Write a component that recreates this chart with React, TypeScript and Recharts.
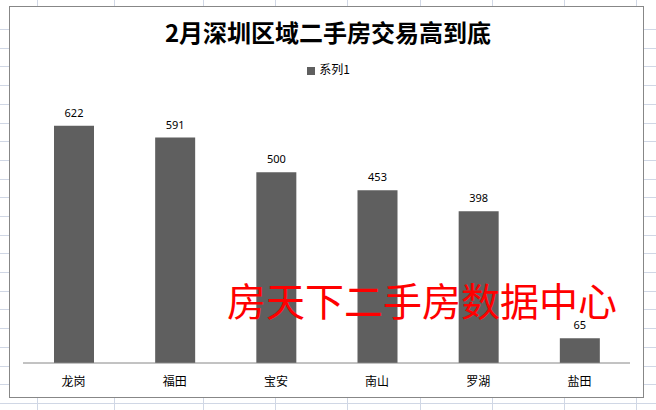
import { BarChart, Bar, XAxis, YAxis, Legend, LabelList } from 'recharts';

const districts = ['龙岗', '福田', '宝安', '南山', '罗湖', '盐田'];
const deals = [622, 591, 500, 453, 398, 65];
const seriesName = '系列1';
const chartTitle = '2月深圳区域二手房交易高到底';
const watermark = '房天下二手房数据中心';

// spreadsheet gridlines behind the chart object
const sheetCols = [37, 114, 203, 275, 347, 420, 492, 564, 636];
const sheetRowTop = 29;
const sheetRowHeight = 18.7;

const data = districts.map((name, i) => ({ name, value: deals[i] }));

const cjk = '"Noto Sans CJK SC", "Noto Sans", sans-serif';

function SheetGrid() {
  const rows: number[] = [];
  for (let y = sheetRowTop; y < 410; y += sheetRowHeight) rows.push(Math.round(y) + 0.5);
  return (
    <svg width={656} height={410} style={{ position: 'absolute', left: 0, top: 0 }}>
      {sheetCols.map((x) => (
        <line key={'c' + x} x1={x + 0.5} x2={x + 0.5} y1={0} y2={410} stroke="#d0d7e5" />
      ))}
      {rows.map((y) => (
        <line key={'r' + y} x1={0} x2={656} y1={y} y2={y} stroke="#d0d7e5" />
      ))}
    </svg>
  );
}

export default function App() {
  return (
    <div style={{ position: 'fixed', left: 0, top: 0, width: 656, height: 410, background: '#fff', overflow: 'hidden' }}>
      <SheetGrid />
      <div
        style={{
          position: 'absolute',
          left: 9,
          top: 6,
          width: 635,
          height: 392,
          boxSizing: 'border-box',
          border: '1px solid #878787',
          background: '#fff',
        }}
      />
      <div
        style={{
          position: 'absolute',
          left: 0,
          top: 20,
          width: 656,
          textAlign: 'center',
          fontFamily: cjk,
          fontSize: 24,
          lineHeight: '24px',
          fontWeight: 700,
          color: '#000',
        }}
      >
        {chartTitle}
      </div>
      <div style={{ position: 'absolute', left: 0, top: 0 }}>
        <BarChart
          width={656}
          height={410}
          data={data}
          margin={{ top: 96, right: 26, left: 23, bottom: 17 }}
          style={{ fontFamily: cjk }}
        >
          <XAxis
            dataKey="name"
            height={30}
            axisLine={{ stroke: '#868686' }}
            tickLine={false}
            tickMargin={8}
            tick={{ fill: '#000', fontSize: 12, fontFamily: cjk }}
          />
          <YAxis hide domain={[0, 700]} />
          <Legend
            verticalAlign="middle"
            iconType="square"
            iconSize={8}
            wrapperStyle={{ top: 61, left: 5.5, width: 656, fontSize: 12, lineHeight: '16px', fontFamily: cjk }}
            formatter={(v) => <span style={{ color: '#000' }}>{v}</span>}
          />
          <Bar dataKey="value" name={seriesName} fill="#5f5f5f" barSize={40} isAnimationActive={false}>
            <LabelList
              dataKey="value"
              position="top"
              offset={9}
              style={{ fill: '#000', fontSize: 11, fontFamily: '"Noto Sans", sans-serif' }}
            />
          </Bar>
        </BarChart>
      </div>
      <div
        style={{
          position: 'absolute',
          left: 227,
          top: 280,
          fontFamily: cjk,
          fontSize: 39,
          lineHeight: '39px',
          color: '#ff0000',
          whiteSpace: 'nowrap',
        }}
      >
        {watermark}
      </div>
    </div>
  );
}
